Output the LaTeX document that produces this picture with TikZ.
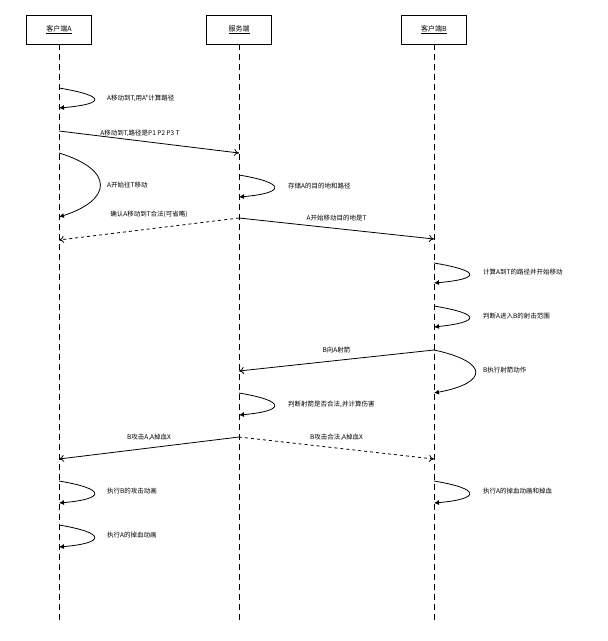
\documentclass[tikz,border=0pt]{standalone}
\usepackage{fontspec}
\setmainfont{Liberation Serif}
\newfontfamily\cjk{Noto Sans CJK SC}
\usetikzlibrary{arrows.meta}
\begin{document}
\begin{tikzpicture}[x=1pt,y=-1pt,
  actor/.style={draw,thick,minimum width=65pt,minimum height=29pt,font=\cjk\fontsize{7}{8}\selectfont},
  life/.style={dashed,thick,dash pattern=on 6pt off 4pt},
  msg/.style={thick,-{To[length=5pt,width=7pt]}},
  selfm/.style={thick,-{Latex[length=5pt,width=5pt]}},
  lbl/.style={font=\cjk\fontsize{6.5}{7}\selectfont,inner sep=1pt},
  lblr/.style={lbl,anchor=west}]
\useasboundingbox (0,0) rectangle (608,641);
\node[actor] (A) at (59,29.5) {\underline{客户端A}};
\node[actor] (S) at (239,29.5) {\underline{服务端}};
\node[actor] (B) at (434,29.5) {\underline{客户端B}};
\coordinate (Ae) at (59,620);\coordinate (Se) at (239,620);\coordinate (Be) at (434,620);
\draw[life] (A.south) -- (Ae);
\draw[life] (S.south) -- (Se);
\draw[life] (B.south) -- (Be);
% self loops
\newcommand{\selfloop}[4]{%
  \coordinate (s1) at (#1,#2); \coordinate (s2) at (#1,#3);
  \draw[selfm] (s1) .. controls ($(#1,#2)+(#4,6)$) and ($(#1,#3)+(#4,-4)$) .. (s2);}
\coordinate (a1) at (59,88);\coordinate (a2) at (59,108);
\draw[selfm] (a1) .. controls (107,96) and (105,104) .. (a2);
\node[lblr] (t1) at (106,98) {A移动到T,用A*计算路径};
\coordinate (m1s) at (59,131);\coordinate (m1e) at (239,153);
\draw[msg] (m1s) -- (m1e) node[lbl,pos=0.45,above=3pt] {A移动到T,路径是P1 P2 P3 T};
\coordinate (a3) at (59,153);\coordinate (a4) at (59,217);
\draw[selfm] (a3) .. controls (115,170) and (112,200) .. (a4);
\node[lblr] (t2) at (106,185) {A开始往T移动};
\coordinate (s3) at (239,175);\coordinate (s4) at (239,197);
\draw[selfm] (s3) .. controls (287,183) and (285,193) .. (s4);
\node[lblr] (t3) at (287,186) {存储A的目的地和路径};
\coordinate (m2s) at (239,218);\coordinate (m2e) at (59,240);
\draw[msg,dashed] (m2s) -- (m2e) node[lbl,pos=0.5,above=10pt] {确认A移动到T合法(可省略)};
\coordinate (m3e) at (434,239);
\draw[msg] (m2s) -- (m3e) node[lbl,pos=0.5,above=6pt] {A开始移动目的地是T};
\coordinate (b1) at (434,263);\coordinate (b2) at (434,283);
\draw[selfm] (b1) .. controls (482,271) and (480,279) .. (b2);
\node[lblr] (t4) at (482,272) {计算A到T的路径并开始移动};
\coordinate (b3) at (434,306);\coordinate (b4) at (434,327);
\draw[selfm] (b3) .. controls (482,314) and (480,322) .. (b4);
\node[lblr] (t5) at (482,316) {判断A进入B的射击范围};
\coordinate (b5) at (434,350);\coordinate (m4e) at (239,371);
\draw[msg] (b5) -- (m4e) node[lbl,pos=0.5,above=6pt] {B向A射箭};
\coordinate (b6) at (434,393);
\draw[selfm] (b5) .. controls (490,362) and (488,383) .. (b6);
\node[lblr] (t6) at (482,370) {B执行射箭动作};
\coordinate (s5) at (239,393);\coordinate (s6) at (239,415);
\draw[selfm] (s5) .. controls (287,401) and (285,411) .. (s6);
\node[lblr] (t7) at (287,404) {判断射箭是否合法,并计算伤害};
\coordinate (s7) at (239,437);\coordinate (m5e) at (59,459);\coordinate (m6e) at (434,459);
\draw[msg] (s7) -- (m5e) node[lbl,pos=0.5,above=6pt] {B攻击A,A掉血X};
\draw[msg,dashed] (s7) -- (m6e) node[lbl,pos=0.5,above=6pt] {B攻击合法,A掉血X};
\coordinate (a5) at (59,481);\coordinate (a6) at (59,503);
\draw[selfm] (a5) .. controls (107,489) and (105,499) .. (a6);
\node[lblr] (t8) at (106,491) {执行B的攻击动画};
\coordinate (b7) at (434,481);\coordinate (b8) at (434,503);
\draw[selfm] (b7) .. controls (482,489) and (480,499) .. (b8);
\node[lblr] (t9) at (482,491) {执行A的掉血动画和掉血};
\coordinate (a7) at (59,525);\coordinate (a8) at (59,547);
\draw[selfm] (a7) .. controls (107,533) and (105,543) .. (a8);
\node[lblr] (t10) at (106,535) {执行A的掉血动画};
\end{tikzpicture}
\end{document}
